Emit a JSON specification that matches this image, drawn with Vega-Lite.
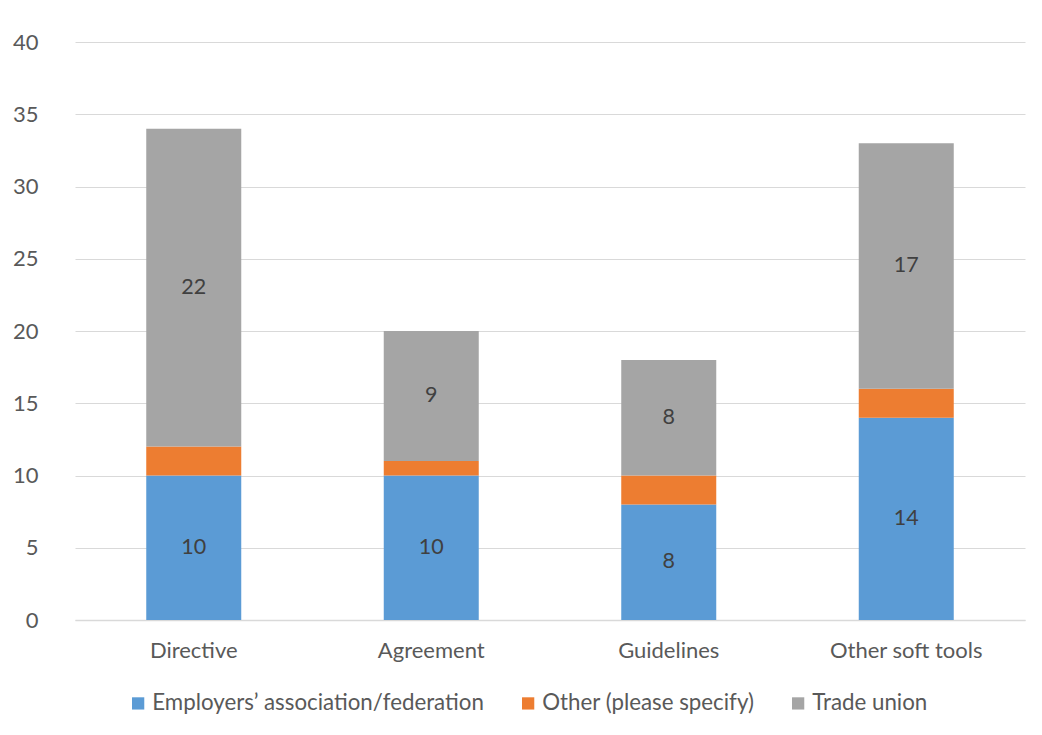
{
  "$schema": "https://vega.github.io/schema/vega-lite/v6.json",
  "width": 950,
  "height": 578,
  "autosize": {"type": "none"},
  "padding": {"left": 75, "top": 42, "right": 17, "bottom": 115},
  "background": "white",
  "config": {
    "font": "Lato",
    "view": {"stroke": null},
    "axis": {"labelFont": "Lato", "labelColor": "#595959", "labelFontSize": 22}
  },
  "data": {
    "values": [
      {"tool": "Directive", "series": "Employers’ association/federation", "k": 1, "value": 10},
      {"tool": "Directive", "series": "Other (please specify)", "k": 2, "value": 2},
      {"tool": "Directive", "series": "Trade union", "k": 3, "value": 22},
      {"tool": "Agreement", "series": "Employers’ association/federation", "k": 1, "value": 10},
      {"tool": "Agreement", "series": "Other (please specify)", "k": 2, "value": 1},
      {"tool": "Agreement", "series": "Trade union", "k": 3, "value": 9},
      {"tool": "Guidelines", "series": "Employers’ association/federation", "k": 1, "value": 8},
      {"tool": "Guidelines", "series": "Other (please specify)", "k": 2, "value": 2},
      {"tool": "Guidelines", "series": "Trade union", "k": 3, "value": 8},
      {"tool": "Other soft tools", "series": "Employers’ association/federation", "k": 1, "value": 14},
      {"tool": "Other soft tools", "series": "Other (please specify)", "k": 2, "value": 2},
      {"tool": "Other soft tools", "series": "Trade union", "k": 3, "value": 17}
    ]
  },
  "transform": [
    {"stack": "value", "groupby": ["tool"], "sort": [{"field": "k", "order": "ascending"}], "as": ["y0", "y1"]},
    {"calculate": "(datum.y0 + datum.y1) / 2", "as": "mid"}
  ],
  "encoding": {
    "x": {
      "field": "tool", "type": "nominal",
      "sort": ["Directive", "Agreement", "Guidelines", "Other soft tools"],
      "scale": {"paddingInner": 0.6, "paddingOuter": 0.3},
      "axis": {"title": null, "labelAngle": 0, "ticks": false, "domainColor": "#D9D9D9", "domainWidth": 1.5, "labelPadding": 20}
    }
  },
  "layer": [
    {
      "mark": {"type": "bar"},
      "encoding": {
        "y": {"field": "y0", "type": "quantitative", "scale": {"domain": [0, 40]},
          "axis": {"title": null, "values": [0,5,10,15,20,25,30,35,40], "labelOverlap": false, "ticks": false, "domain": false, "gridColor": "#D9D9D9", "gridWidth": 1.2, "labelPadding": 37}},
        "y2": {"field": "y1"},
        "color": {
          "field": "series", "type": "nominal",
          "scale": {"domain": ["Employers’ association/federation", "Other (please specify)", "Trade union"], "range": ["#5B9BD5", "#ED7D31", "#A5A5A5"]},
          "legend": {"title": null, "orient": "none", "legendX": 52, "legendY": 650, "direction": "horizontal", "symbolType": "square", "symbolSize": 150, "symbolStrokeWidth": 0, "labelFontSize": 22.3, "labelColor": "#595959", "labelFont": "Lato", "labelLimit": 600, "columnPadding": 32, "symbolOffset": 0, "labelOffset": 3}
        }
      }
    },
    {
      "transform": [{"filter": "datum.series != 'Other (please specify)'"}],
      "mark": {"type": "text", "fontSize": 21.5, "color": "#404040", "baseline": "middle"},
      "encoding": {
        "y": {"field": "mid", "type": "quantitative"},
        "text": {"field": "value", "type": "quantitative"}
      }
    }
  ]
}
